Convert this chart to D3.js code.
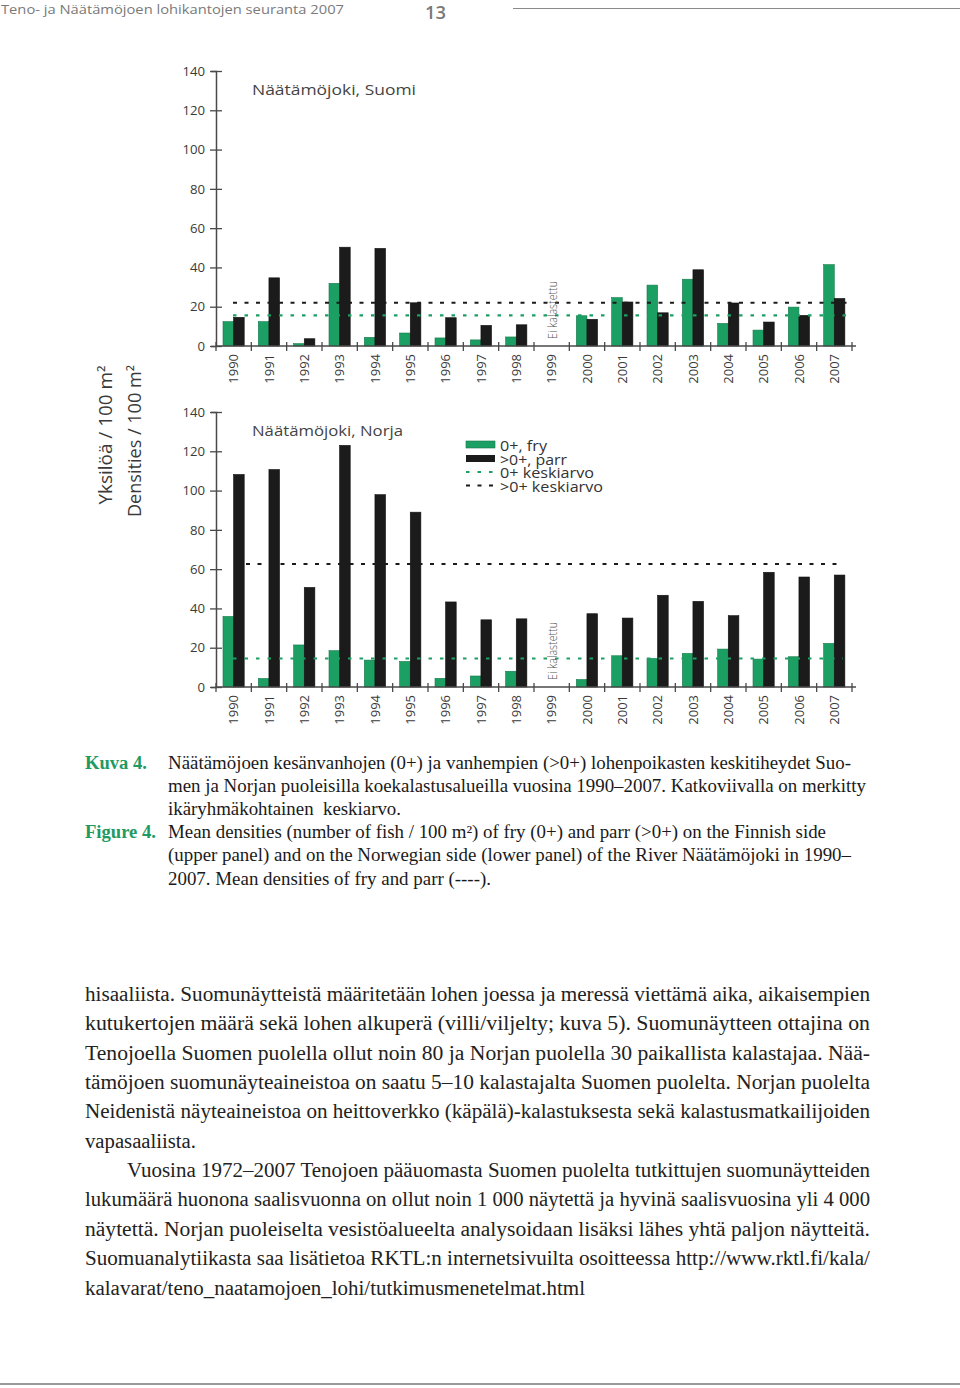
<!DOCTYPE html>
<html><head><meta charset="utf-8">
<script src="https://cdn.jsdelivr.net/npm/d3@7"></script>
<style>
html,body{margin:0;padding:0;background:#fff;}
svg{display:block;}
</style></head>
<body>
<script>
// ---------- DATA ----------
const years = ["1990","1991","1992","1993","1994","1995","1996","1997","1998","1999","2000","2001","2002","2003","2004","2005","2006","2007"];
const finFry  = [12.4,12.4,1.2,31.9,4.4,6.6,4.1,3.1,4.6,null,15.4,24.6,31.0,34.0,11.5,8.1,19.8,41.4];
const finParr = [14.6,34.7,3.7,50.3,49.7,22.0,14.4,10.5,10.8,null,13.6,22.4,16.9,38.8,21.9,12.2,15.6,24.2];
const norFry  = [35.9,4.3,21.4,18.5,13.7,13.0,4.4,5.6,8.0,null,3.8,15.9,14.5,17.1,19.3,14.2,15.4,22.2];
const norParr = [108.2,110.7,50.7,123.0,97.9,89.0,43.3,34.2,34.7,null,37.3,35.1,46.7,43.6,36.3,58.4,56.0,57.0];
const finMeans = [15.6, 22.0];   // fry, parr
const norMeans = [14.5, 62.6];
const yTicks = [0,20,40,60,80,100,120,140];
const series = ["fry","parr"];
const legendLabels = ["0+, fry", ">0+, parr", "0+ keskiarvo", ">0+ keskiarvo"];
const panelTitles = ["Näätämöjoki, Suomi", "Näätämöjoki, Norja"];
const notFished = "Ei kalastettu";
const yLabels = ["Yksilöä / 100 m²", "Densities / 100 m²"];

const GREEN = "#1c9f63", BLACK = "#1b1b1b", AXIS = "#4a4a4a", TXT = "#3a3a3a";

const svg = d3.select("body").append("svg").attr("width",960).attr("height",1388);

// ---------- HEADER ----------
svg.append("text").attr("x",1).attr("y",14).attr("font-family","Open Sans").attr("font-size",13.5)
  .attr("fill","#7a7a7a").attr("textLength",343).attr("lengthAdjust","spacingAndGlyphs")
  .text("Teno- ja Näätämöjoen lohikantojen seuranta 2007");
svg.append("text").attr("x",425).attr("y",18.5).attr("font-family","Open Sans").attr("font-size",18.5)
  .attr("font-weight",600).attr("fill","#7a7a7a").attr("textLength",21).attr("lengthAdjust","spacingAndGlyphs").text("13");
svg.append("line").attr("x1",513).attr("x2",960).attr("y1",8.5).attr("y2",8.5).attr("stroke","#8a8a8a").attr("stroke-width",1);

// ---------- PANELS ----------
const x = d3.scaleBand().domain(years).range([216, 852]).paddingInner(0).paddingOuter(0);
const xs = d3.scaleBand().domain(series).range([7, 28.2]).padding(0);

function panel(top, bottom, fry, parr, means, title, titleW, meanSpan) {
  const y = d3.scaleLinear().domain([0,140]).range([bottom, top]);
  const g = svg.append("g");
  // y axis
  const ya = d3.axisLeft(y).tickValues(yTicks).tickSize(5).tickPadding(6);
  const yg = g.append("g").attr("transform","translate(216,0)").call(ya);
  yg.select(".domain").attr("stroke",AXIS).attr("stroke-width",1.5);
  yg.selectAll(".tick line").attr("stroke",AXIS).attr("stroke-width",1.3).attr("x2",6).attr("x1",-6);
  yg.selectAll(".tick text").attr("font-family","Open Sans").attr("font-size",13.2).attr("fill",TXT).attr("x",-11);

  // bars
  const rows = years.map((yr,i)=>({yr, fry:fry[i], parr:parr[i]}));
  const grp = g.selectAll(".grp").data(rows).enter().append("g")
    .attr("transform",d=>`translate(${x(d.yr)},0)`);
  grp.selectAll("rect").data(d=>series.map(s=>({s, v:d[s]})).filter(e=>e.v!=null)).enter().append("rect")
    .attr("x",e=>xs(e.s)).attr("width",xs.bandwidth())
    .attr("y",e=>y(e.v)).attr("height",e=>y(0)-y(e.v))
    .attr("fill",e=>e.s==="fry"?GREEN:BLACK)
    .attr("stroke",e=>e.s==="fry"?"#147a4a":"#111").attr("stroke-width",0.6);

  // mean lines
  g.append("line").attr("x1",meanSpan[0][0]).attr("x2",meanSpan[0][1]).attr("y1",y(means[0])).attr("y2",y(means[0]))
    .attr("stroke",GREEN).attr("stroke-width",2.2).attr("stroke-dasharray","3.5,8");
  g.append("line").attr("x1",meanSpan[1][0]).attr("x2",meanSpan[1][1]).attr("y1",y(means[1])).attr("y2",y(means[1]))
    .attr("stroke",BLACK).attr("stroke-width",2).attr("stroke-dasharray","4,7.5");

  // x axis
  g.append("line").attr("x1",216).attr("x2",856).attr("y1",y(0)).attr("y2",y(0)).attr("stroke",AXIS).attr("stroke-width",1.5);
  const bounds = years.map(d=>x(d)).concat([x(years[years.length-1])+x.bandwidth()]);
  g.selectAll(".xt").data(bounds).enter().append("line")
    .attr("x1",d=>d).attr("x2",d=>d).attr("y1",y(0)-4).attr("y2",y(0)+5).attr("stroke",AXIS).attr("stroke-width",1.3);
  g.selectAll(".xl").data(years).enter().append("text")
    .attr("transform",d=>`translate(${x(d)+x.bandwidth()/2+4.5},${y(0)+8}) rotate(-90)`)
    .attr("text-anchor","end").attr("font-family","Open Sans").attr("font-size",13).attr("fill",TXT)
    .text(d=>d);

  // not fished
  g.append("text").attr("transform",`translate(${x("1999")+x.bandwidth()/2+5},${y(0)-7}) rotate(-90)`)
    .attr("font-family","Open Sans").attr("font-size",12).attr("font-weight",300).attr("fill","#555")
    .attr("textLength",58).attr("lengthAdjust","spacingAndGlyphs").text(notFished);

  // title
  g.append("text").attr("x",252).attr("y",top+24).attr("font-family","Open Sans").attr("font-size",15)
    .attr("fill","#444").attr("textLength",titleW).attr("lengthAdjust","spacingAndGlyphs").text(title);
  return y;
}

panel(71, 346, finFry, finParr, finMeans, panelTitles[0], 164, [[233,848],[233,848]]);
panel(412, 687, norFry, norParr, norMeans, panelTitles[1], 151, [[233,843],[246,837]]);

// ---------- LEGEND ----------
const lg = svg.append("g");
lg.append("rect").attr("x",466).attr("y",441).attr("width",29).attr("height",7).attr("fill",GREEN).attr("stroke","#147a4a").attr("stroke-width",0.6);
lg.append("rect").attr("x",466).attr("y",455).attr("width",29).attr("height",7).attr("fill",BLACK);
lg.append("line").attr("x1",466).attr("x2",495).attr("y1",472).attr("y2",472).attr("stroke",GREEN).attr("stroke-width",2.2).attr("stroke-dasharray","3.5,8");
lg.append("line").attr("x1",466).attr("x2",495).attr("y1",485.5).attr("y2",485.5).attr("stroke",BLACK).attr("stroke-width",2).attr("stroke-dasharray","4,7.5");
const lgW = [47, 67, 94, 103];
lg.selectAll(".lt").data(legendLabels).enter().append("text")
  .attr("x",500).attr("y",(d,i)=>451+i*13.6).attr("font-family","Open Sans").attr("font-size",14.5)
  .attr("fill","#333").attr("textLength",(d,i)=>lgW[i]).attr("lengthAdjust","spacingAndGlyphs").text(d=>d);

// ---------- Y LABELS ----------
svg.append("text").attr("transform","translate(112,435) rotate(-90)").attr("text-anchor","middle")
  .attr("font-family","Open Sans").attr("font-size",17.5).attr("fill","#3a3a3a")
  .attr("textLength",139).attr("lengthAdjust","spacingAndGlyphs").text(yLabels[0]);
svg.append("text").attr("transform","translate(141,441) rotate(-90)").attr("text-anchor","middle")
  .attr("font-family","Open Sans").attr("font-size",17.5).attr("fill","#3a3a3a")
  .attr("textLength",152).attr("lengthAdjust","spacingAndGlyphs").text(yLabels[1]);

// ---------- CAPTION ----------
const capGreen = "#1e9a62";
function t(xp, yp, str, w, opts={}) {
  const e = svg.append("text").attr("x",xp).attr("y",yp)
    .attr("font-family","Liberation Serif").attr("font-size",opts.size||18)
    .attr("fill",opts.fill||"#1a1a1a").text(str);
  if (opts.bold) e.attr("font-weight","bold");
  if (w) e.attr("textLength",w).attr("lengthAdjust","spacingAndGlyphs");
  return e;
}
t(85,769,"Kuva 4.",62,{bold:true,fill:capGreen});
t(85,838,"Figure 4.",71,{bold:true,fill:capGreen});
const capLines = [
  ["Näätämöjoen kesänvanhojen (0+) ja vanhempien (>0+) lohenpoikasten keskitiheydet Suo-",683],
  ["men ja Norjan puoleisilla koekalastusalueilla vuosina 1990–2007. Katkoviivalla on merkitty",698],
  ["ikäryhmäkohtainen  keskiarvo.",233],
  ["Mean densities (number of fish / 100 m²) of fry (0+) and parr (>0+) on the Finnish side",658],
  ["(upper panel) and on the Norwegian side (lower panel) of the River Näätämöjoki in 1990–",683],
  ["2007. Mean densities of fry and parr (----).",323]
];
const capY = [769,792,815,838,861,885];
capLines.forEach((l,i)=>{ const e=t(168,capY[i],l[0],l[1]); e.attr("xml:space","preserve").style("white-space","pre"); });

// ---------- BODY ----------
const bodyLines = [
  [85,"hisaaliista. Suomunäytteistä määritetään lohen joessa ja meressä viettämä aika, aikaisempien",785],
  [85,"kutukertojen määrä sekä lohen alkuperä (villi/viljelty; kuva 5). Suomunäytteen ottajina on",785],
  [85,"Tenojoella Suomen puolella ollut noin 80 ja Norjan puolella 30 paikallista kalastajaa. Nää-",785],
  [85,"tämöjoen suomunäyteaineistoa on saatu 5–10 kalastajalta Suomen puolelta. Norjan puolelta",785],
  [85,"Neidenistä näyteaineistoa on heittoverkko (käpälä)-kalastuksesta sekä kalastusmatkailijoiden",785],
  [85,"vapasaaliista.",111],
  [127,"Vuosina 1972–2007 Tenojoen pääuomasta Suomen puolelta tutkittujen suomunäytteiden",743],
  [85,"lukumäärä huonona saalisvuonna on ollut noin 1 000 näytettä ja hyvinä saalisvuosina yli 4 000",785],
  [85,"näytettä. Norjan puoleiselta vesistöalueelta analysoidaan lisäksi lähes yhtä paljon näytteitä.",785],
  [85,"Suomuanalytiikasta saa lisätietoa RKTL:n internetsivuilta osoitteessa http://www.rktl.fi/kala/",785],
  [85,"kalavarat/teno_naatamojoen_lohi/tutkimusmenetelmat.html",500]
];
bodyLines.forEach((l,i)=>{ t(l[0], 1001+i*29.35, l[1], l[2], {size:20, fill:"#222"}); });

// bottom rule
svg.append("line").attr("x1",0).attr("x2",960).attr("y1",1384).attr("y2",1384).attr("stroke","#9a9a9a").attr("stroke-width",2);
</script>
</body></html>
